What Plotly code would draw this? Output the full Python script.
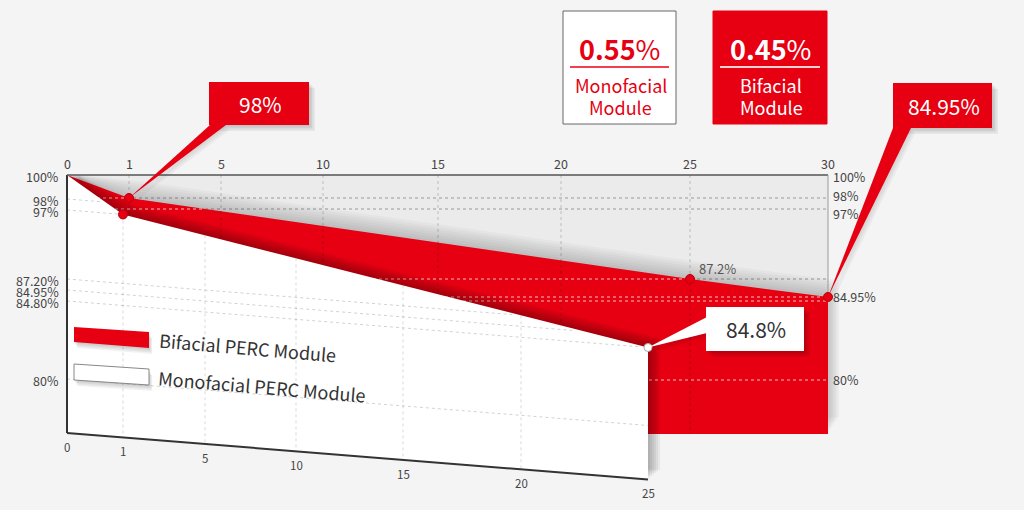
import numpy as np
import plotly.graph_objects as go

# ---------------- data ----------------
bifacial_years = [0, 1, 25, 30]
bifacial_values = [100.0, 98.0, 87.2, 84.95]
mono_years = [0, 1, 25]
mono_values = [100.0, 97.0, 84.8]

top_year_ticks = [0, 1, 5, 10, 15, 20, 25, 30]
bottom_year_ticks = [0, 1, 5, 10, 15, 20, 25]
left_value_ticks = [100, 98, 97, 87.2, 84.95, 84.8, 80]
left_tick_labels = ["100%", "98%", "97%", "87.20%", "84.95%", "84.80%", "80%"]
right_value_ticks = [100, 98, 97, 84.95, 80]
right_tick_labels = ["100%", "98%", "97%", "84.95%", "80%"]
back_grid_values = [98, 97, 87.2, 84.95, 84.8, 80]

rate_values = ["0.55", "0.45"]
rate_names = [("Monofacial", "Module"), ("Bifacial", "Module")]
series_names = ["Bifacial PERC Module", "Monofacial PERC Module"]

# ---------------- drawing scales (pseudo-3D infographic) ----------------
RED = "#e60012"
FONT = "Noto Sans CJK SC, Noto Sans, sans-serif"
BACK_X = [67, 129, 221, 323, 438, 561, 690, 828]
BACK_V = [80, 84.8, 84.95, 87.2, 97, 98, 100]
BACK_Y = [380, 301, 297, 279, 209, 198, 175]
FRONT_X = [67, 123, 205, 296, 403, 521, 648]
FRONT_V = [80, 84.8, 84.95, 87.2, 97, 98, 100]
FRONT_Y = [379, 301, 290, 279, 210, 199, 175]
SHEAR = 0.08
FRONT_BOTTOM = 433
BACK_TOP = 175
BACK_BOTTOM = 434


def bx(year):
    return np.interp(year, top_year_ticks, BACK_X)


def by(v):
    return np.interp(v, BACK_V, BACK_Y)


def fx(year):
    return np.interp(year, bottom_year_ticks, FRONT_X)


def fy(v, x):
    return np.interp(v, FRONT_V, FRONT_Y) + SHEAR * (np.asarray(x) - FRONT_X[0])


def fbottom(x):
    return FRONT_BOTTOM + SHEAR * (np.asarray(x) - FRONT_X[0])


fig = go.Figure()


def poly(xs, ys, color, lc=None, lw=0):
    xs = list(np.asarray(xs, float)); ys = list(np.asarray(ys, float))
    fig.add_trace(go.Scatter(x=xs + [xs[0]], y=ys + [ys[0]], fill="toself", fillcolor=color,
                             mode="lines", line=dict(width=lw, color=lc or "rgba(0,0,0,0)"),
                             hoverinfo="skip", showlegend=False))


def line(xs, ys, color, width=1, dash="solid"):
    fig.add_trace(go.Scatter(x=list(xs), y=list(ys), mode="lines",
                             line=dict(color=color, width=width, dash=dash),
                             hoverinfo="skip", showlegend=False))


def shadow(xs, ys, steps, dx, dy, alpha, clamp_top=None):
    xs = np.asarray(xs, float); ys = np.asarray(ys, float)
    for k in range(1, steps + 1):
        y2 = ys + k * dy
        if clamp_top is not None:
            y2 = np.maximum(y2, clamp_top)
        poly(xs + k * dx, y2, "rgba(0,0,0,%.3f)" % alpha)


def text(x, y, s, size=12, color="#444", xanchor="center", angle=0, yanchor="middle"):
    fig.add_annotation(x=x, y=y, text=s, showarrow=False, xanchor=xanchor, yanchor=yanchor,
                       textangle=angle, font=dict(family=FONT, size=size, color=color))


# back plane
x0, x1 = bx(top_year_ticks[0]), bx(top_year_ticks[-1])
poly([x0, x1, x1, x0], [BACK_TOP, BACK_TOP, BACK_BOTTOM, BACK_BOTTOM], "#ebebeb")
for v in back_grid_values:
    line([x0, x1], [by(v)] * 2, "rgba(0,0,0,0.35)", 1, "dot")

# bifacial red region
b_x = bx(bifacial_years); b_y = by(bifacial_values)
red_x = list(b_x) + [x1, x0]; red_y = list(b_y) + [BACK_BOTTOM, BACK_BOTTOM]
shadow(red_x, red_y, 7, 1.6, -2.4, 0.028, clamp_top=BACK_TOP)
poly(red_x, red_y, RED)
for v in back_grid_values:
    yv = by(v)
    xc = x1 if yv >= b_y[-1] else np.interp(yv, b_y, b_x)
    line([x0, xc], [yv, yv], "rgba(255,255,255,0.75)", 1, "dot")
for yr in top_year_ticks[1:-1]:
    line([bx(yr)] * 2, [BACK_TOP, BACK_BOTTOM], "rgba(0,0,0,0.2)", 1, "dot")

# monofacial white front plane
m_x = fx(mono_years); m_y = fy(mono_values, m_x)
fx_end = m_x[-1]
w_x = list(m_x) + [fx_end, FRONT_X[0]]
w_y = list(m_y) + [fbottom(fx_end), FRONT_BOTTOM]
shadow(w_x, w_y, 6, 2.0, -1.6, 0.05, clamp_top=BACK_TOP)
poly(w_x, w_y, "#ffffff")

# front grid, clipped to the white plane (below the monofacial edge)
xs_dense = np.linspace(FRONT_X[0], fx_end, 600)
edge_dense = np.interp(xs_dense, m_x, m_y)
for v in left_value_ticks[1:]:
    gy = fy(v, xs_dense)
    inside = gy >= edge_dense + 1.5
    if not inside.any():
        continue
    xe = xs_dense[inside][-1]
    line([FRONT_X[0], xe], [fy(v, FRONT_X[0]), fy(v, xe)], "rgba(0,0,0,0.18)", 1, "dot")
for yr in bottom_year_ticks[1:-1]:
    xx = fx(yr)
    line([xx, xx], [np.interp(xx, m_x, m_y), fbottom(xx)], "rgba(0,0,0,0.15)", 1, "dot")
line([FRONT_X[0], FRONT_X[0]], [BACK_TOP, FRONT_BOTTOM], "#333", 2)
line([FRONT_X[0], fx_end], [FRONT_BOTTOM, fbottom(fx_end)], "#333", 2)

# back frame lines
line([x0, x1], [BACK_TOP, BACK_TOP], "#555", 1.5)
line([x1, x1], [BACK_TOP, b_y[-1]], "#999", 1)

# markers
fig.add_trace(go.Scatter(x=b_x[1:], y=b_y[1:], mode="markers", hoverinfo="skip", showlegend=False,
                         marker=dict(size=9, color=RED, line=dict(color="#b8000e", width=1))))
fig.add_trace(go.Scatter(x=m_x[1:2], y=m_y[1:2], mode="markers", hoverinfo="skip", showlegend=False,
                         marker=dict(size=9, color=RED, line=dict(color="#b8000e", width=1))))
fig.add_trace(go.Scatter(x=m_x[-1:], y=m_y[-1:], mode="markers", hoverinfo="skip", showlegend=False,
                         marker=dict(size=8, color="#ffffff", line=dict(color="#aaa", width=1))))


# callouts
def callout(box, base, tip, color, label, tcolor):
    bx0, by0, bx1, by1 = box
    px = [base[0][0], base[1][0], tip[0]]; py = [base[0][1], base[1][1], tip[1]]
    rx = [bx0, bx1, bx1, bx0]; ry = [by0, by0, by1, by1]
    shadow(rx, ry, 4, 1.5, 1.5, 0.05)
    shadow(px, py, 3, 1.5, 1.5, 0.04)
    poly(px, py, color)
    poly(rx, ry, color)
    text((bx0 + bx1) / 2 + 1, (by0 + by1) / 2, label, 21, tcolor)


callout((209, 82, 309, 125), ((210, 125), (226, 125)), (b_x[1], b_y[1]), RED,
        "%g%%" % bifacial_values[1], "#ffffff")
callout((893, 83, 992, 128), ((893, 128), (911, 128)), (b_x[-1], b_y[-1]), RED,
        "%g%%" % bifacial_values[-1], "#ffffff")
callout((706, 307, 804, 351), ((707, 317), (707, 333)), (m_x[-1], m_y[-1]), "#ffffff",
        "%g%%" % mono_values[-1], "#333")
text(b_x[2] + 27, b_y[2] - 11, "%g%%" % bifacial_values[2], 13, "#555")

# axis tick labels
for yr in top_year_ticks:
    text(bx(yr), 163, str(yr), 12.5, "#444")
for yr in bottom_year_ticks:
    xx = fx(yr)
    text(xx, fbottom(xx) + 14, str(yr), 11.5, "#444")
for v, s in zip(left_value_ticks, left_tick_labels):
    text(61, fy(v, FRONT_X[0]) + 1, s, 12.5, "#444", xanchor="right")
right_dy = [1, -3, 4, -1, -1]
for v, s, d in zip(right_value_ticks, right_tick_labels, right_dy):
    text(831, by(v) + d, s, 12.5, "#444", xanchor="left")

# degradation-rate boxes
boxes = [(563, 11, 676, 124), (713, 11, 827, 124)]
for i, (bx0_, by0_, bx1_, by1_) in enumerate(boxes):
    fillc = "#ffffff" if i == 0 else RED
    tc = RED if i == 0 else "#ffffff"
    poly([bx0_, bx1_, bx1_, bx0_], [by0_, by0_, by1_, by1_], fillc, lc="#666" if i == 0 else RED, lw=1)
    cx = (bx0_ + bx1_) / 2
    text(cx, 48, "<b>%s</b>%%" % rate_values[i], 27, tc)
    line([bx0_ + 7, bx1_ - 7], [67, 67], "#f04050" if i == 0 else "#ffd0d0", 2)
    text(cx + 1, 85, rate_names[i][0], 18, tc)
    text(cx + 1, 107, rate_names[i][1], 18, tc)

# legend
sw_red = ([74, 149, 149, 74], [327, 332, 348, 342])
sw_white = ([74, 149, 149, 74], [364, 369, 385, 380])
shadow(*sw_red, 4, 0.8, 1.5, 0.05)
poly(*sw_red, RED)
shadow(*sw_white, 4, 0.8, 1.5, 0.05)
poly(*sw_white, "#ffffff", lc="#888", lw=1)
text(247, 347, series_names[0], 18, "#333", angle=4.8)
text(262, 386, series_names[1], 18, "#333", angle=4.8)

fig.update_layout(
    width=1024, height=510, margin=dict(l=0, r=0, t=0, b=0),
    paper_bgcolor="#f4f4f4", plot_bgcolor="#f4f4f4",
    xaxis=dict(range=[0, 1024], visible=False, fixedrange=True),
    yaxis=dict(range=[510, 0], visible=False, fixedrange=True),
    showlegend=False,
)
fig.write_html("out.html", config={"displayModeBar": False},
               post_script="document.body.style.margin='0';document.body.style.padding='0';"
                           "document.body.style.overflow='hidden';"
                           "document.body.style.background='#f4f4f4';")
